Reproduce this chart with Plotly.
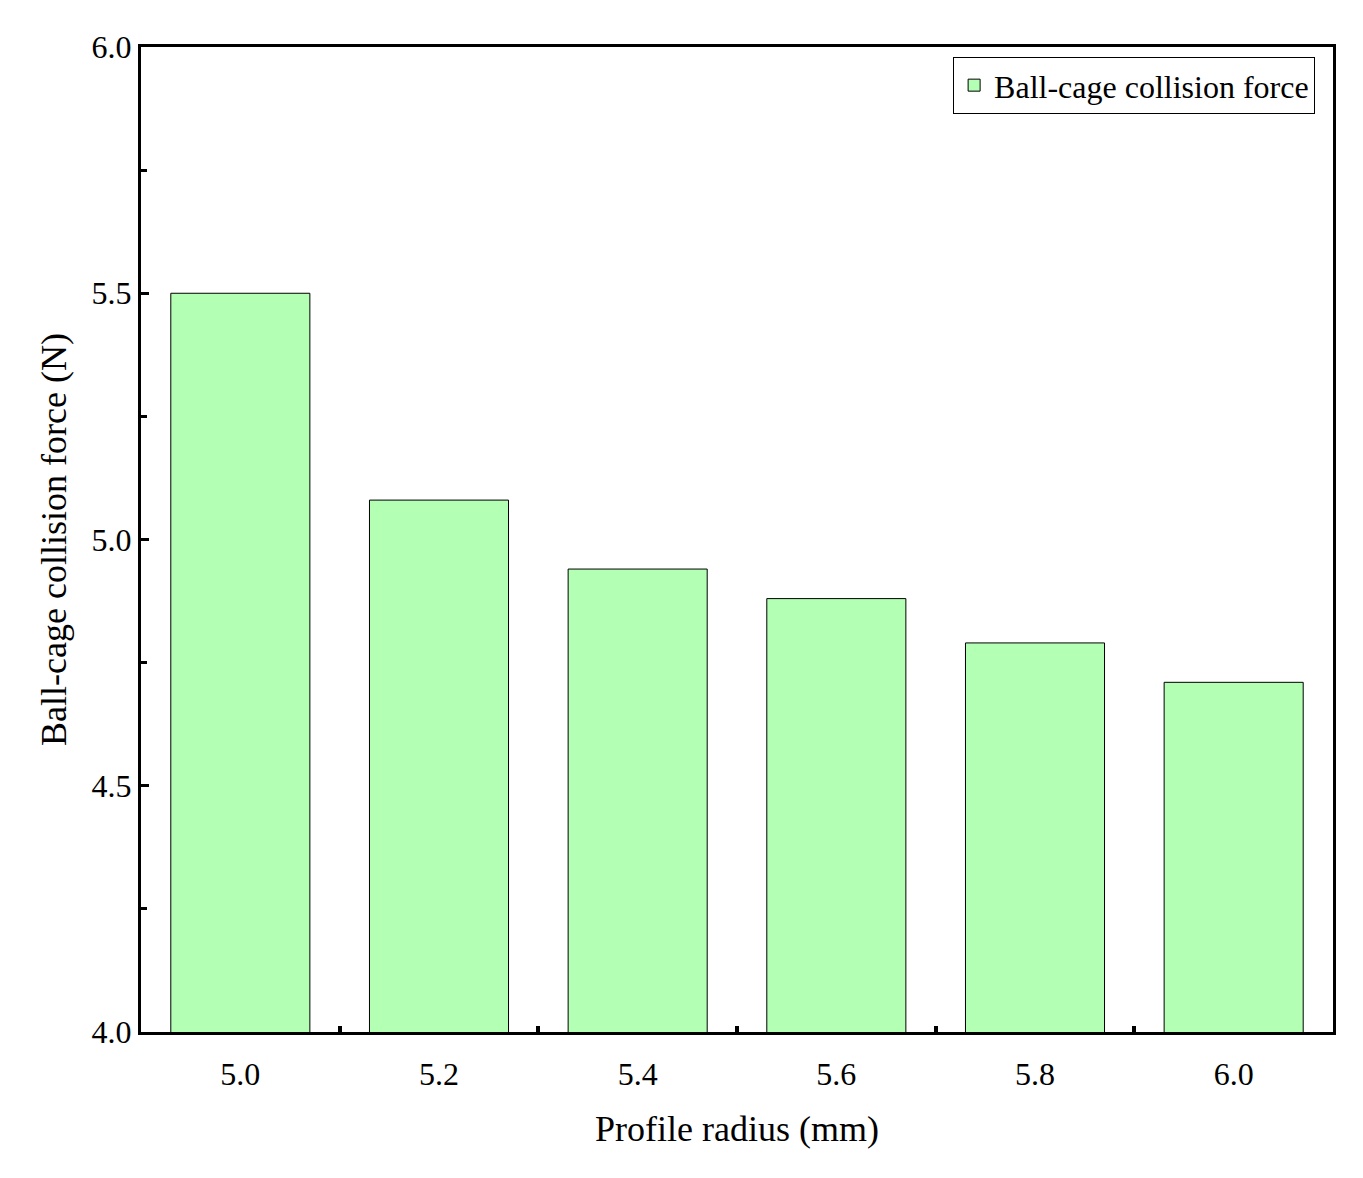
import plotly.graph_objects as go

categories = ["5.0", "5.2", "5.4", "5.6", "5.8", "6.0"]
values = [5.50, 5.08, 4.94, 4.88, 4.79, 4.71]
xpos = list(range(len(categories)))

fig = go.Figure()
fig.add_trace(go.Bar(x=xpos, y=values, width=0.7,
                     marker=dict(color="#b3ffb3", line=dict(color="black", width=1)),
                     name="Ball-cage collision force", showlegend=True))
fig.add_trace(go.Scatter(x=[0.5], y=[3], xaxis="x2", showlegend=False, hoverinfo="skip", mode="markers"))

font = "Liberation Serif, Times New Roman, serif"
fig.update_layout(
    width=1363, height=1178, plot_bgcolor="white", paper_bgcolor="white",
    margin=dict(l=133, r=38, t=39, b=154),
    font=dict(family=font, size=32, color="black"),
    showlegend=True,
    legend=dict(x=0.985, y=0.99, xanchor="right", yanchor="top", bordercolor="black", borderwidth=1,
                font=dict(family=font, size=32), bgcolor="white"),
    xaxis=dict(range=[-0.5, 5.5], tickvals=xpos, ticktext=categories, ticks="", showline=True,
               tickfont=dict(family=font, size=32),
               linecolor="black", linewidth=3, mirror=True, showgrid=False, zeroline=False,
               title=dict(text="Profile radius (mm)", font=dict(family=font, size=36), standoff=25),
               ticklabelstandoff=12),
    xaxis2=dict(range=[-0.5, 5.5], overlaying="x", side="bottom", tickvals=[0.5, 1.5, 2.5, 3.5, 4.5],
                showticklabels=False, ticks="inside", ticklen=6, tickwidth=4, tickcolor="black",
                showgrid=False, zeroline=False, showline=False),
    yaxis=dict(range=[4.0, 6.0], dtick=0.5, tick0=4.0, tickformat=".1f", ticks="inside", ticklen=8,
               tickfont=dict(family=font, size=32),
               tickwidth=3, tickcolor="black", showline=True, linecolor="black", linewidth=3, mirror=True,
               showgrid=False, zeroline=False,
               minor=dict(dtick=0.25, ticks="inside", ticklen=6, tickwidth=3, tickcolor="black"),
               title=dict(text="Ball-cage collision force (N)", font=dict(family=font, size=36), standoff=14)),
)
fig.write_html("out.html")
